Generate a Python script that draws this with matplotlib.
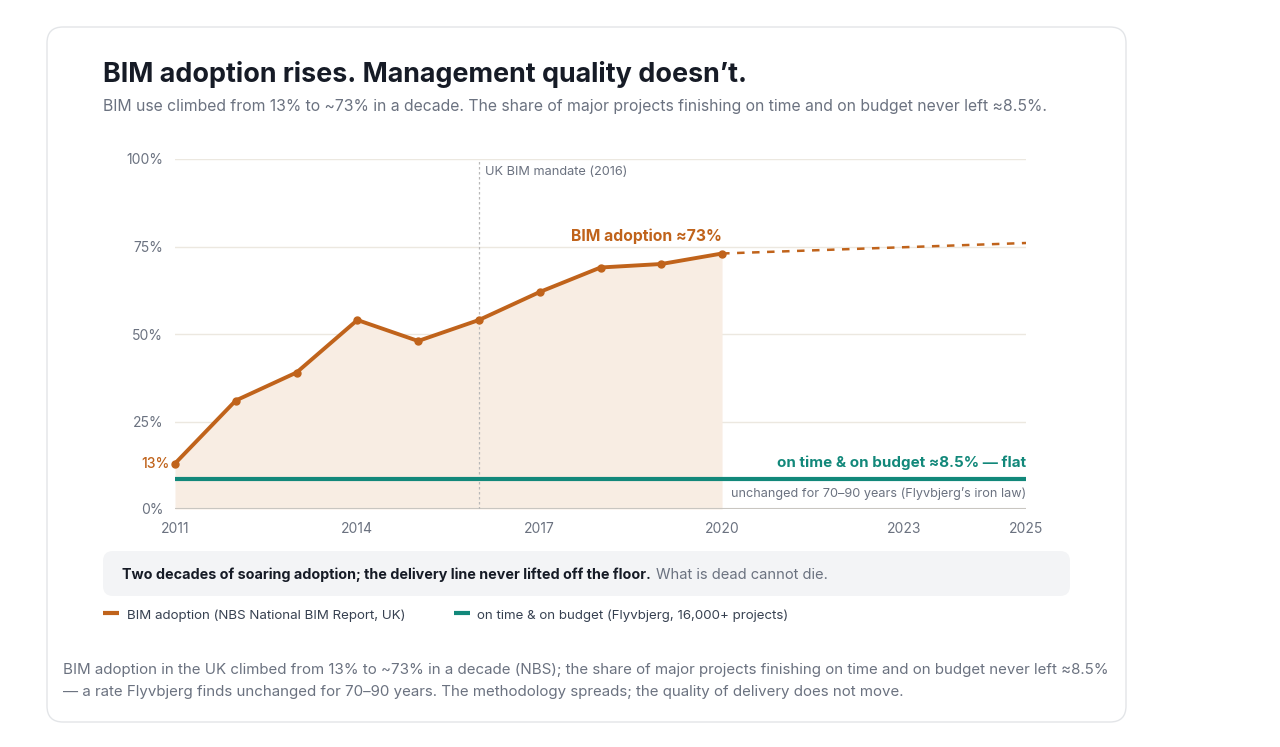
import matplotlib
matplotlib.use('Agg')
import matplotlib.pyplot as plt
from matplotlib.patches import FancyBboxPatch

plt.rcParams['font.family'] = ['Inter', 'DejaVu Sans']

# data
years = [2011, 2012, 2013, 2014, 2015, 2016, 2017, 2018, 2019, 2020]
adoption = [13, 31, 39, 54, 48, 54, 62, 69, 70, 73]
proj_years = [2020, 2025]
proj_values = [73, 76]
on_time = 8.5
mandate_year = 2016
xticks = [2011, 2014, 2017, 2020, 2023, 2025]
yticks = [0, 25, 50, 75, 100]

orange = '#c0631b'
teal = '#12887a'
gray = '#6b7280'
dark = '#161b26'

W, H = 1280, 747
fig = plt.figure(figsize=(12.8, 7.47), dpi=100)
fig.patch.set_facecolor('white')

# background layer in pixel coords (y down)
bg = fig.add_axes([0, 0, 1, 1], zorder=0)
bg.set_xlim(0, W)
bg.set_ylim(H, 0)
bg.axis('off')

bg.add_patch(FancyBboxPatch((47, 27), 1079, 695, boxstyle='round,pad=0,rounding_size=16',
                            fc='white', ec='#e3e5e8', lw=1))
bg.text(103, 75, 'BIM adoption rises. Management quality doesn\u2019t.', fontsize=19.4,
        fontweight='bold', color=dark, va='center')
bg.text(103, 106, 'BIM use climbed from 13% to ~73% in a decade. The share of major projects '
        'finishing on time and on budget never left \u22488.5%.', fontsize=11.35, color=gray, va='center')

# callout box
bg.add_patch(FancyBboxPatch((103, 551), 967, 45, boxstyle='round,pad=0,rounding_size=10',
                            fc='#f3f4f6', ec='none'))
t1 = bg.text(122, 575, 'Two decades of soaring adoption; the delivery line never lifted off the floor.',
             fontsize=10.3, fontweight='bold', color=dark, va='center')
fig.canvas.draw()
bb = t1.get_window_extent()
bg.text(bb.x1 + 5, 575, 'What is dead cannot die.', fontsize=10.6, color=gray, va='center')

# legend
bg.plot([103, 119], [613, 613], color=orange, lw=3, solid_capstyle='butt')
bg.text(127, 616, 'BIM adoption (NBS National BIM Report, UK)', fontsize=9.6, color='#374151', va='center')
bg.plot([454, 470], [613, 613], color=teal, lw=3, solid_capstyle='butt')
bg.text(477, 616, 'on time & on budget (Flyvbjerg, 16,000+ projects)', fontsize=9.55, color='#374151', va='center')

# footer
bg.text(63, 670, 'BIM adoption in the UK climbed from 13% to ~73% in a decade (NBS); the share of major '
        'projects finishing on time and on budget never left \u22488.5%', fontsize=10.85, color=gray, va='center')
bg.text(63, 692, '\u2014 a rate Flyvbjerg finds unchanged for 70\u201390 years. The methodology spreads; '
        'the quality of delivery does not move.', fontsize=10.85, color=gray, va='center')

# main chart
ax = fig.add_axes([175 / W, 1 - 509 / H, 851 / W, 350 / H], zorder=1)
ax.set_facecolor('none')
ax.set_xlim(2011, 2025)
ax.set_ylim(0, 100)
for s in ax.spines.values():
    s.set_visible(False)

ax.set_yticks(yticks)
ax.set_yticklabels([f'{v}%' for v in yticks])
ax.set_xticks(xticks)
ax.set_xticklabels([str(v) for v in xticks])
ax.tick_params(length=0, labelsize=10, labelcolor=gray)
ax.tick_params(axis='y', pad=8.5)
ax.tick_params(axis='x', pad=9.5)
ax.grid(axis='y', color='#ece8e0', lw=1)
ax.set_axisbelow(True)
ax.axhline(0, color='#c9c6c1', lw=1.5, zorder=2)

ax.fill_between(years, adoption, 0, color='#f8ede3', lw=0, zorder=1)
ax.axvline(mandate_year, color='#b9b9b9', lw=0.9, ls=(0, (2, 2)), zorder=2)
ax.hlines(on_time, 2011, 2025, color=teal, lw=3, zorder=3)
ax.plot(proj_years, proj_values, color=orange, lw=1.8, ls=(0, (3, 3)), zorder=3)
ax.plot(years, adoption, color=orange, lw=2.8, marker='o', ms=5, zorder=4, clip_on=False)

ax.annotate('UK BIM mandate (2016)', (mandate_year, 100), xytext=(6, -13),
            textcoords='offset pixels', fontsize=9.2, color=gray, va='center')
ax.annotate('13%', (years[0], adoption[0]), xytext=(-5, 0), textcoords='offset pixels',
            fontsize=10, color=orange, ha='right', va='center', fontweight='medium')
ax.annotate('BIM adoption \u224873%', (years[-1], adoption[-1]), xytext=(0, 17),
            textcoords='offset pixels', fontsize=11.3, fontweight='bold', color=orange,
            ha='right', va='center')
ax.annotate('on time & on budget \u22488.5% \u2014 flat', (2025, on_time), xytext=(0, 16),
            textcoords='offset pixels', fontsize=10.9, fontweight='bold', color=teal,
            ha='right', va='center')
ax.annotate('unchanged for 70\u201390 years (Flyvbjerg\u2019s iron law)', (2025, on_time),
            xytext=(0, -14), textcoords='offset pixels', fontsize=9.15, color=gray,
            ha='right', va='center')

fig.savefig('out.png', dpi=100)
